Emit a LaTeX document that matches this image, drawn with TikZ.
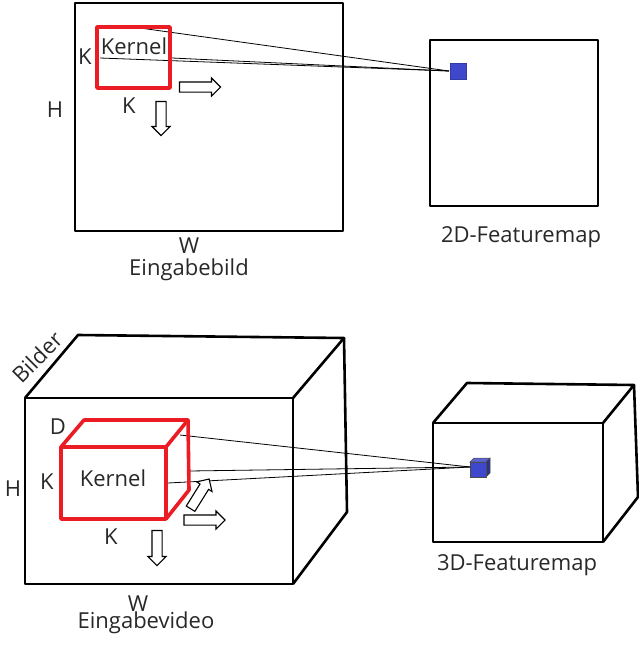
\documentclass[tikz,border=0pt]{standalone}
\usepackage{fontspec}
\setmainfont{Open Sans}
\usetikzlibrary{shapes.arrows}
\definecolor{kred}{RGB}{236,28,36}
\definecolor{fblue}{RGB}{63,72,204}
\definecolor{txt}{RGB}{40,40,40}
\begin{document}
\begin{tikzpicture}[x=1pt,y=-1pt,
  box/.style={draw=black,line width=2.6pt,line join=round},
  kbox/.style={draw=kred,line width=3.6pt,line join=round},
  thin/.style={draw=black,line width=0.8pt},
  lbl/.style={inner sep=0pt,text=txt,font=\fontsize{22}{24}\selectfont},
  klbl/.style={inner sep=0pt,text=txt,font=\fontsize{22}{24}\selectfont},
  harrow/.style={single arrow,draw=black,fill=white,line width=1.1pt,inner sep=0pt,
    inner ysep=4.5pt,minimum width=17pt,single arrow head extend=4pt,single arrow head indent=0pt}]
\useasboundingbox (0,0) rectangle (639,645);
% ---------- top: 2D ----------
\draw[box] (75,3) rectangle (343,231);
\node[lbl] (H1) at (55,110) {H};
\node[lbl] (W1) at (189,246) {W};
\node[lbl] (Ein1) at (189,270) {Eingabebild};
\draw[box] (430,40) rectangle (598,206);
\node[lbl] (F2) at (521,237) {2D-Featuremap};
\node[draw=fblue!80!black,fill=fblue,minimum size=16pt,inner sep=0pt] (px) at (458.5,71.5) {};
\coordinate (tgt1) at (449,71);
\coordinate (k1a) at (140,28);
\coordinate (k1b) at (100,58);
\coordinate (k1c) at (172,58);
\draw[thin] (k1a) -- (tgt1);
\draw[thin] (k1b) -- (tgt1);
\draw[thin] (k1c) -- (tgt1);
\draw[kbox] (97,27) rectangle (170,88);
\node[klbl] (Kern1) at (134,46) {Kernel};
\node[lbl] (K1l) at (85,57) {K};
\node[lbl] (K1b) at (129,106) {K};
\node[harrow,minimum height=41pt] (ar1) at (197.5,87) {};
\node[harrow,minimum height=34pt,rotate=-90] (ad1) at (161,116) {};
% ---------- bottom: 3D ----------
\coordinate (a1) at (25,398);
\coordinate (a2) at (293,398);
\coordinate (a3) at (293,584);
\coordinate (a4) at (25,584);
\coordinate (b1) at (78,335);
\coordinate (b2) at (344,338);
\coordinate (b3) at (347,512);
\draw[box] (a1) -- (a2) -- (a3) -- (a4) -- cycle;
\draw[box] (a1) -- (b1) -- (b2) -- (a2);
\draw[box] (b2) -- (b3) -- (a3);
\node[lbl,rotate=45] (Bild) at (37,357) {Bilder};
\node[lbl] (H2) at (13,489) {H};
\node[lbl] (W2) at (138,604) {W};
\node[lbl] (Ein2) at (146,623) {Eingabevideo};
% feature cuboid
\coordinate (c1) at (433,423);
\coordinate (c2) at (603,423);
\coordinate (c3) at (603,542);
\coordinate (c4) at (433,542);
\coordinate (d1) at (467,383);
\coordinate (d2) at (634,385);
\coordinate (d3) at (638,497);
\draw[box] (c1) -- (c2) -- (c3) -- (c4) -- cycle;
\draw[box] (c1) -- (d1) -- (d2) -- (c2);
\draw[box] (d2) -- (d3) -- (c3);
\node[lbl] (F3) at (517,565) {3D-Featuremap};
% blue cube
\fill[fblue!85!white,draw=black!70,line width=0.5pt] (470,462) -- (474,458) -- (490,458) -- (486,462) -- cycle;
\fill[fblue!70!black,draw=black!70,line width=0.5pt] (486,462) -- (490,458) -- (490,473) -- (486,477) -- cycle;
\node[draw=black!70,line width=0.5pt,fill=fblue,minimum width=16pt,minimum height=15pt,inner sep=0pt] (vx) at (478,469.5) {};
\coordinate (tgt2) at (470,467);
\coordinate (k2a) at (180,435);
\coordinate (k2b) at (189,471);
\coordinate (k2c) at (168,483);
\draw[thin] (k2a) -- (tgt2);
\draw[thin] (k2b) -- (tgt2);
\draw[thin] (k2c) -- (tgt2);
% red kernel cuboid
\coordinate (e1) at (61,447);
\coordinate (e2) at (166,447);
\coordinate (e3) at (166,519);
\coordinate (e4) at (61,519);
\coordinate (f1) at (84,420);
\coordinate (f2) at (188,420);
\coordinate (f3) at (189,490);
\draw[kbox] (e1) -- (e2) -- (e3) -- (e4) -- cycle;
\draw[kbox] (e1) -- (f1) -- (f2) -- (e2);
\draw[kbox] (f2) -- (f3) -- (e3);
\node[lbl] (D) at (58,427) {D};
\node[lbl] (K2l) at (47,482) {K};
\node[klbl] (Kern2) at (113,478) {Kernel};
\node[lbl] (K2b) at (111,537) {K};
\node[harrow,minimum height=41pt] (ar2) at (202,520) {};
\node[harrow,minimum height=35pt,rotate=-90] (ad2) at (157,545.5) {};
\node[harrow,minimum height=35pt,rotate=58] (add2) at (198.5,496) {};
\end{tikzpicture}
\end{document}
